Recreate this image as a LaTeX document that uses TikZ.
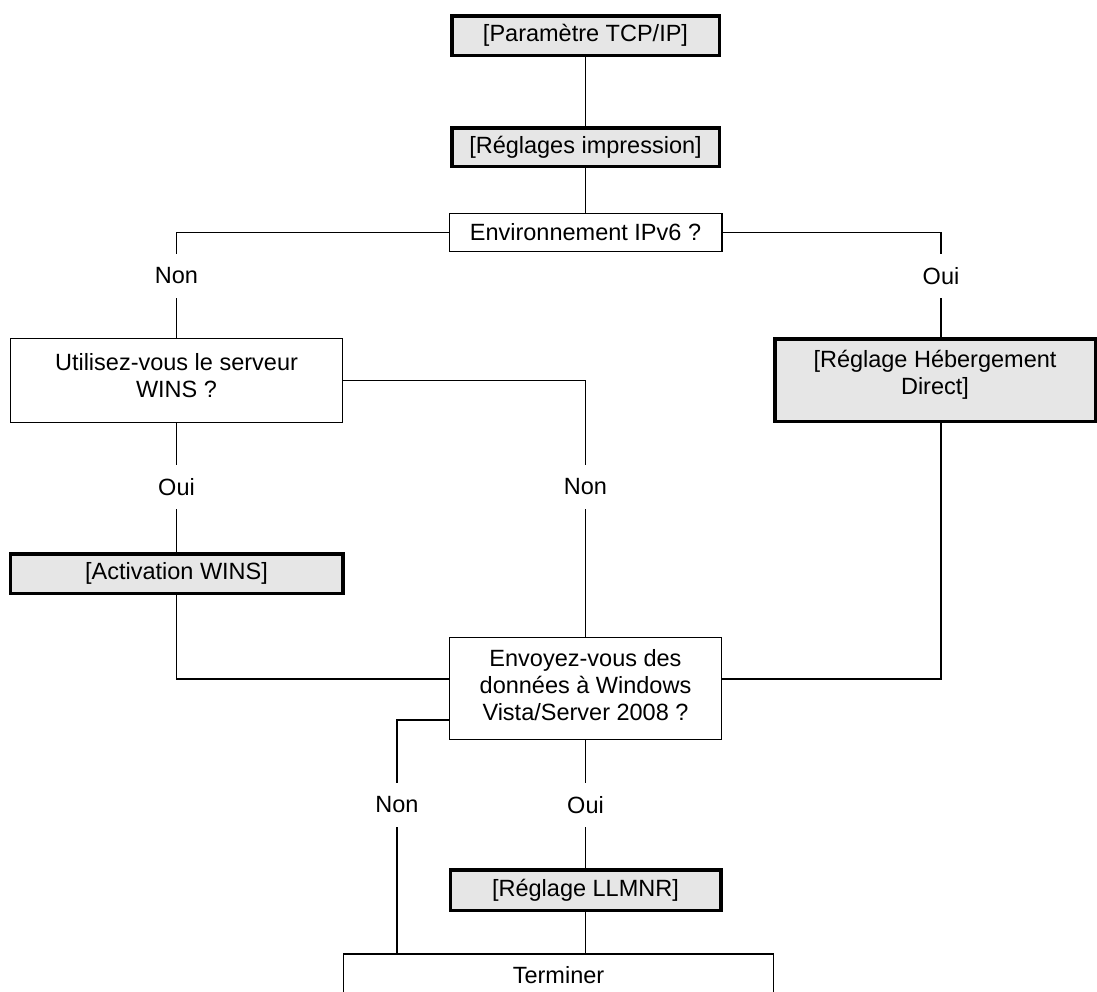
\documentclass[tikz,border=0pt]{standalone}
\usepackage{fontspec}
\setmainfont{Liberation Sans}
\definecolor{boxgray}{HTML}{E6E6E6}
\begin{document}
\begin{tikzpicture}[x=1pt,y=-1pt,
  every node/.style={font=\fontsize{23.5}{27}\selectfont, inner sep=0pt},
  heavybox/.style={draw, line width=3.5pt, fill=boxgray, align=center},
  lightbox/.style={draw, line width=1.3pt, fill=white, align=center},
  answer/.style={minimum height=44pt, minimum width=10pt},
  conn/.style={line width=1.3pt}
]
\useasboundingbox (0,0) rectangle (1097,991);

% boxes
\node[heavybox, minimum width=267.5pt, minimum height=39.5pt] (tcp) at (585.5,35.5) {[Paramètre TCP/IP]};
\node[heavybox, minimum width=267.5pt, minimum height=38.5pt] (impr) at (585.5,147) {[Réglages impression]};
\node[lightbox, minimum width=272.7pt, minimum height=37.7pt] (ipv6) at (585.5,232.5) {Environnement IPv6 ?};
\node[lightbox, minimum width=331.7pt, minimum height=83.7pt,
  label={[name=winsT, align=center, yshift=5pt]center:Utilisez-vous le serveur\\WINS ?}] (wins) at (176.5,380.5) {};
\node[heavybox, minimum width=320.5pt, minimum height=82.5pt,
  label={[name=hebT, align=center, yshift=5pt]center:[Réglage Hébergement\\Direct]}] (heb) at (935,380) {};
\node[heavybox, minimum width=332.5pt, minimum height=39.5pt] (activ) at (176.5,573.5) {[Activation WINS]};
\node[lightbox, minimum width=271.7pt, minimum height=101.7pt,
  label={[name=envT, align=center, yshift=3.5pt]center:Envoyez-vous des\\données à Windows\\Vista/Server 2008 ?}] (envoy) at (585.5,688.5) {};
\node[heavybox, minimum width=270.5pt, minimum height=40.5pt] (llmnr) at (585.5,890) {[Réglage LLMNR]};
\node[lightbox, minimum width=429.7pt, minimum height=42pt] (term) at (558.5,975) {Terminer};

% answer labels
\node[answer] (non1) at (176.5,276) {Non};
\node[answer] (oui1) at (941,276) {Oui};
\node[answer] (oui2) at (176.5,487) {Oui};
\node[answer] (non2) at (585.5,487) {Non};
\node[answer] (non3) at (397,805) {Non};
\node[answer] (oui3) at (585.5,805) {Oui};

% connectors
\draw[conn] (tcp.south) -- (impr.north);
\draw[conn] (impr.south) -- (ipv6.north);
\draw[conn] (ipv6.west) -| (non1.north);
\draw[conn] (non1.south) -- (wins.north);
\draw[conn] (ipv6.east) -| (oui1.north);
\draw[conn] (oui1.south) -- (oui1.south |- heb.north);
\draw[conn] (wins.east) -| (non2.north);
\draw[conn] (non2.south) -- (envoy.north);
\draw[conn] (wins.south) -- (oui2.north);
\draw[conn] (oui2.south) -- (activ.north);
\draw[conn] (activ.south) |- ([yshift=9.5pt]envoy.west);
\draw[conn] (oui1.south |- heb.south) |- ([yshift=9.5pt]envoy.east);
\draw[conn] ([yshift=-31.5pt]envoy.west) -| (non3.north);
\draw[conn] (non3.south) -- (non3.south |- term.north);
\draw[conn] (envoy.south) -- (oui3.north);
\draw[conn] (oui3.south) -- (llmnr.north);
\draw[conn] (llmnr.south) -- (llmnr.south |- term.north);
\end{tikzpicture}
\end{document}
